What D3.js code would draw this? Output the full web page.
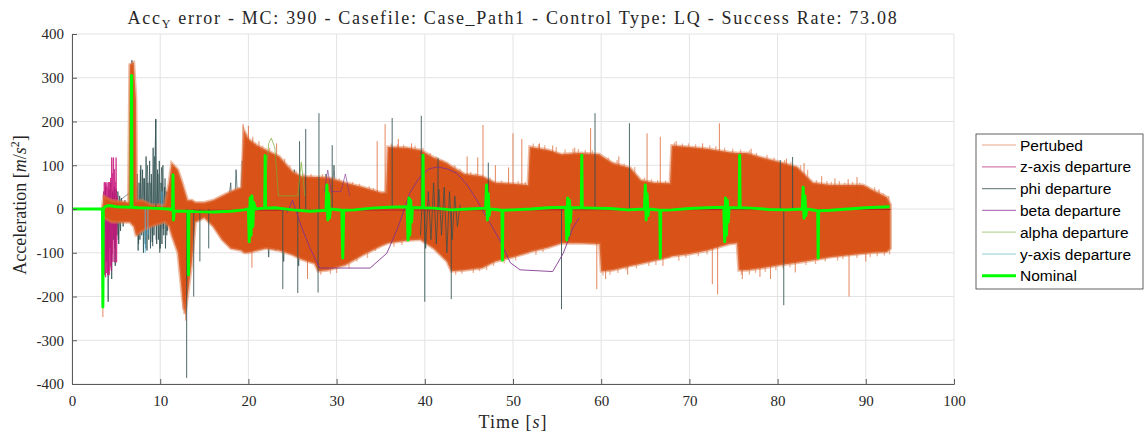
<!DOCTYPE html>
<html>
<head>
<meta charset="utf-8">
<title>Acc Y error</title>
<style>
  body { margin: 0; background: #fff; }
  svg { display: block; }
</style>
</head>
<body>
<script src="https://cdnjs.cloudflare.com/ajax/libs/d3/7.9.0/d3.min.js"></script>
<script>

// ---- data ----

// envelope of the dense "Pertubed" (orange) runs
const bandT  = [3.4, 3.6, 4.5, 6.4, 6.55, 7.0, 7.25, 7.35, 8.0, 9.0, 10.5, 11.0, 11.3, 12.0, 12.5, 12.8, 13.1, 13.6, 14.0, 15.0, 16.0, 17.0, 18.0, 19.2, 19.5, 20.0, 21.0, 22.0, 23.5, 25.0, 26.0, 27.5, 27.9, 29.0, 31.0, 33.0, 35.0, 35.6, 35.8, 38.0, 39.5, 41.0, 42.5, 43.0, 44.5, 46.5, 48.0, 50.0, 51.7, 51.9, 54.0, 55.5, 57.5, 59.8, 60.0, 61.3, 63.3, 64.5, 66.0, 67.8, 68.0, 70.0, 72.0, 74.5, 75.4, 75.6, 76.5, 78.3, 80.3, 82.2, 84.0, 86.0, 89.7, 90.8, 92.4, 92.8];
const bandHi = [0, 30, 20, 15, 330, 335, 250, 20, 20, 10, 10, 60, 105, 90, 60, 40, 20, 20, 15, 15, 20, 30, 40, 50, 180, 160, 145, 135, 120, 85, 75, 73, 73, 72, 60, 50, 38, 38, 142, 140, 135, 118, 105, 98, 80, 75, 60, 58, 55, 142, 135, 125, 128, 125, 122, 105, 94, 66, 60, 59, 145, 142, 138, 130, 128, 128, 128, 117, 107, 96, 60, 55, 55, 43, 27, 10];
const bandLo = [0, -20, -30, -30, -30, -40, -60, -60, -50, -40, -30, -40, -60, -100, -200, -240, -200, -120, -30, -20, -40, -70, -90, -95, -100, -100, -95, -90, -95, -105, -115, -125, -142, -140, -128, -105, -85, -80, -78, -72, -70, -90, -120, -142, -140, -135, -120, -110, -100, -98, -88, -78, -78, -80, -142, -140, -130, -125, -118, -110, -108, -103, -95, -80, -78, -140, -140, -135, -128, -123, -117, -110, -102, -100, -98, -90];

// single orange runs sticking out of the band [time, value]
const pertSpikes = [[3.5, -247], [12.9, -255], [12.6, -230], [19.4, 194], [20.0, 190], [20.4, -134], [20.5, 165], [21.2, 155], [23.2, 150], [26.7, -160], [34.6, 155], [35.5, 194], [37.0, 160], [38.5, 150], [44.8, 120], [46.0, 118], [46.6, 192], [48.0, 100], [49.5, 95], [50.0, 173], [51.0, 160], [53.0, 150], [54.5, 145], [57.0, 140], [58.8, 185], [59.5, -183], [60.5, -160], [62.0, 120], [63.0, -150], [65.2, 173], [66.7, 165], [67.0, -130], [68.5, 155], [71.5, 150], [72.6, -172], [73.2, -195], [73.4, 196], [76.0, -160], [77.0, 138], [78.0, -155], [79.2, -160], [81.0, 115], [82.0, -145], [83.0, 105], [85.0, 75], [86.5, 70], [88.0, 68], [88.1, -200], [89.0, 73], [90.0, -120], [91.5, 45]];

// ragged fringe of lighter orange runs along the band edges
const pertFringe = [[20.8, 150], [21.6, 145], [22.4, 140], [24.1, 115], [24.7, 100], [25.4, 88], [26.3, 82], [27.1, 80], [28.4, 80], [29.6, 75], [30.3, 70], [31.8, 62], [32.6, 58], [33.7, 52], [34.2, 48], [36.2, 150], [36.9, 148], [37.6, 147], [38.9, 145], [39.8, 140], [40.6, 128], [41.3, 120], [42.0, 112], [43.4, 100], [44.0, 92], [45.2, 85], [45.8, 82], [47.4, 72], [48.7, 65], [50.6, 64], [51.4, 62], [52.3, 150], [52.9, 148], [53.6, 146], [54.9, 142], [55.9, 136], [56.8, 138], [57.4, 137], [58.2, 135], [59.0, 134], [60.8, 118], [61.8, 112], [62.6, 104], [63.8, 96], [64.9, 72], [65.7, 68], [66.4, 66], [67.3, 65], [68.3, 152], [69.2, 150], [69.9, 150], [70.7, 148], [72.3, 146], [73.0, 144], [74.0, 140], [74.9, 138], [75.8, 136], [76.8, 134], [77.6, 128], [78.8, 124], [79.6, 118], [80.8, 112], [81.5, 108], [82.6, 100], [83.4, 90], [84.4, 66], [85.6, 64], [86.1, 62], [87.0, 64], [87.6, 60], [88.5, 62], [89.3, 60], [90.2, 52], [91.0, 50], [92.0, 36], [92.6, 30],
  [28.2, -150], [29.3, -148], [30.0, -146], [31.4, -136], [32.3, -120], [33.5, -112], [34.4, -96], [36.5, -86], [37.4, -82], [43.5, -150], [44.2, -148], [45.5, -146], [46.2, -142], [47.0, -140], [47.8, -130], [49.0, -124], [50.3, -118], [52.6, -105], [53.4, -98], [60.2, -152], [61.0, -150], [61.9, -146], [62.8, -140], [64.0, -136], [65.4, -130], [66.2, -128], [68.8, -118], [69.6, -112], [71.0, -108], [72.0, -104], [75.9, -150], [76.8, -150], [77.5, -146], [78.6, -144], [79.8, -140], [80.6, -136], [81.4, -133], [83.2, -128], [84.3, -126], [85.4, -120], [86.8, -118], [87.4, -115], [89.0, -112], [90.5, -110], [91.3, -108], [92.1, -106], [92.7, -104]];

// z-axis departure runs (pink)
const zAxisT = [3.6, 3.63, 3.66, 3.69, 3.72, 3.75, 3.78, 3.81, 3.84, 3.87, 3.9, 3.93, 3.96, 3.99, 4.02, 4.05, 4.08, 4.11, 4.14, 4.17, 4.2, 4.23, 4.26, 4.29, 4.32, 4.35, 4.38, 4.41, 4.44, 4.47, 4.5, 4.55, 4.6, 4.65, 4.7, 4.75, 4.8, 4.85, 4.9, 4.95, 5.0, 5.05, 5.1, 5.2];
const zAxisV = [40, -120, 60, -150, 50, -140, 60, -155, 40, -130, 55, -145, 60, -110, 50, -150, 40, -140, 60, -125, 50, -150, 60, -110, 40, -130, 70, -120, 50, -140, 117, -100, 80, -120, 117, -60, 90, -121, 60, -80, 117, -121, 30, 0];

// phi departure runs (dark grey)
const phiEarlyT = [3.6, 3.7, 3.8, 3.9, 4.0, 4.1, 4.2, 4.3, 4.4, 4.5, 4.6, 4.7, 4.8, 4.9, 5.0, 5.1, 5.2, 5.3, 5.4, 5.5, 5.6, 5.8, 6.0, 6.2, 6.4, 6.6, 6.8, 7.0, 7.3, 7.4, 7.5, 7.6, 7.7, 7.8, 7.9, 8.0, 8.1, 8.2, 8.3, 8.4, 8.5, 8.6, 8.7, 8.8, 8.9, 9.0, 9.1, 9.2, 9.3, 9.4, 9.5, 9.6, 9.7, 9.8, 9.9, 10.0, 10.1, 10.2, 10.3, 10.4, 10.5, 10.6, 10.7, 10.8, 10.9, 11.0];
const phiEarlyV = [40, -150, 50, -120, 30, -212, 45, -90, 60, -160, 40, -70, 50, -130, 45, -60, 40, -80, 30, -50, 25, -40, 20, -30, 15, -20, 340, -30, -40, 80, -95, 60, -70, 100, -60, 90, -100, 70, -80, 120, -95, 60, -70, 110, -90, 80, -75, 140, -60, 100, 205, -80, 90, -70, 110, -90, 60, -80, 100, -60, 50, -90, 40, -50, 30, -20];
const phiEarly2T = [3.65, 3.85, 4.05, 4.25, 4.45, 4.65, 4.85, 5.05, 5.25, 5.45, 7.35, 7.55, 7.75, 7.95, 8.15, 8.35, 8.55, 8.75, 8.95, 9.15, 9.35, 9.55, 9.75, 9.95, 10.15, 10.35, 10.55, 10.75, 10.95, 11.2, 11.5, 11.8, 12.1, 12.4];
const phiEarly2V = [-60, 30, -100, 20, -140, 35, -90, 25, -70, 20, 50, -80, 90, -50, 70, -90, 100, -40, 60, -85, 120, -70, 80, -100, 95, -45, 70, -60, 45, -50, 60, -70, 50, -80];
const phiMidT = [17.5, 18, 18.3, 18.6, 19, 19.3, 19.7, 20.2, 20.6, 21, 21.4, 21.8, 22.3, 22.7, 23.1, 23.5, 24, 24.4, 24.8, 25.2, 25.7, 26.1, 26.6, 27, 27.4, 27.9, 28.3, 28.8, 29.2, 29.7, 30.2, 30.7, 31.2];
const phiMidV = [-20, 60, -80, 90, -60, 110, -100, 80, -90, 100, -70, 90, -110, 70, -95, 60, -120, 80, -100, 90, -130, 70, -90, 60, -110, 70, -120, 80, -90, 100, -70, 50, -40];
const phiLateT = [39.5, 39.8, 40.1, 40.4, 40.7, 41, 41.3, 41.6, 41.9, 42.2, 42.5, 42.8, 43.1, 43.4, 43.7, 44];
const phiLateV = [-60, 50, -90, 40, -70, 60, -80, 45, -60, 50, -100, 40, -70, 30, -40, 10];
const phiSpikes = [[9.5, 206], [13.0, -386], [13.8, -200], [14.5, -120], [15.5, -90], [23.9, -183], [25.6, -192], [25.8, 155], [26.5, 183], [27.9, -191], [28.0, 219], [29.5, 146], [36.3, 208], [39.6, 213], [40.0, -212], [41.5, 117], [43.0, -206], [47.2, 106], [55.5, -229], [59.3, 219], [63.2, 196], [80.3, 112], [80.7, -220], [81.7, 119]];

// beta departure (purple)
const betaT = [24.4, 25, 26, 27, 28.1, 33.8, 35.7, 37, 38.3, 39.5, 40.5, 41.4, 42.5, 43.6, 44.8, 45.9, 47.2, 48.5, 49.7, 50.8, 54.5, 55.7, 56.8, 57.5];
const betaV = [-9, 20, -40, -90, -135, -135, -101, -40, 37, 75, 92, 96, 92, 82, 55, 20, -25, -71, -123, -139, -143, -101, -43, -20];
const betaBumpT = [28.6, 29.0, 29.4, 30.5, 31.0, 31.5];
const betaBumpV = [40, 89, 40, 40, 80, 30];

// alpha departure (light green)
const alphaT = [21.8, 22.3, 22.6, 23.0, 23.4, 25.6, 26.0, 26.4];
const alphaV = [20, 150, 162, 140, 30, 30, 107, 30];

// y-axis departure (teal)
const yAxisSpikes = [[8.3, -100], [8.6, -60], [10.2, 40]];

// nominal run (green)
const nomT = [0, 3.45, 3.5, 3.55, 3.8, 4.2, 5, 6.7, 6.75, 6.8, 7.5, 9, 11, 11.4, 11.45, 11.5, 11.6, 12.5, 13.15, 13.2, 13.25, 14, 16, 18, 19.5, 20.0, 20.1, 20.2, 20.3, 20.4, 20.5, 20.6, 20.8, 21.85, 21.9, 21.95, 23, 25, 27, 28.8, 28.9, 29.0, 29.1, 29.2, 29.3, 30.6, 30.7, 30.8, 32, 34, 36, 38.0, 38.1, 38.2, 38.3, 38.4, 38.5, 38.6, 39.75, 39.8, 39.85, 41, 43, 45, 46.9, 47.0, 47.1, 47.2, 47.3, 47.4, 48.75, 48.8, 48.85, 50, 52, 54, 56.0, 56.1, 56.2, 56.3, 56.4, 56.5, 56.6, 57.75, 57.8, 57.85, 59, 61, 63, 64.9, 65.0, 65.1, 65.2, 65.3, 65.4, 66.65, 66.7, 66.75, 68, 70, 72, 73.9, 74.0, 74.1, 74.2, 74.3, 74.4, 74.5, 75.65, 75.7, 75.75, 77, 79, 81, 82.8, 82.9, 83.0, 83.1, 83.2, 83.3, 84.55, 84.6, 84.65, 86, 88, 90, 92.7];
const nomV = [0, 0, -224, 0, 6, 8, 5, 4, 305, 4, 3, 2, 0, -3, 78, -25, -5, -5, -5, -151, -5, -6, -7, -5, -2, 0, -75, 25, -60, 30, -40, 15, 0, 2, 122, 2, 3, -2, -5, -3, 55, -25, 35, -20, 0, -3, -112, -3, -2, 2, 4, 5, -71, 25, -60, 20, -30, 3, 3, 123, 3, 2, -2, 0, 2, 55, -25, 35, -15, 0, -3, -117, -3, -2, 0, 3, 4, -71, 25, -60, 20, -30, 3, 3, 123, 3, 2, 1, -2, 0, 55, -25, 35, -15, 0, -3, -112, -3, -2, 1, 3, 4, -75, 25, -60, 20, -30, 3, 3, 123, 3, 2, -1, -2, 0, 50, -21, 30, -15, 0, -4, -112, -4, -3, 0, 3, 5];

// dark red reference run sitting under the nominal
const redT = [13, 92.8];
const redV = [-3, -1];

const xTicks = [0, 10, 20, 30, 40, 50, 60, 70, 80, 90, 100];
const yTicks = [-400, -300, -200, -100, 0, 100, 200, 300, 400];

const legendNames = ["Pertubed", "z-axis departure", "phi departure", "beta departure", "alpha departure", "y-axis departure", "Nominal"];
const legendColors = ["#e9a587", "#d77bae", "#7a8a8a", "#b27fbb", "#bcd49c", "#8ccfd6", "#00ff00"];

const titleText = "error - MC: 390 - Casefile: Case_Path1 - Control Type: LQ - Success Rate: 73.08";

// ---- layout ----
const width = 1146, height = 437;
const plot = {left: 72, right: 954, top: 34, bottom: 384};

const svg = d3.select("body").append("svg")
    .attr("width", width)
    .attr("height", height);

const x = d3.scaleLinear().domain([0, 100]).range([plot.left, plot.right]);
const y = d3.scaleLinear().domain([-400, 400]).range([plot.bottom, plot.top]);

// grid
svg.append("g").selectAll("line").data(xTicks).enter().append("line")
    .attr("x1", d => x(d)).attr("x2", d => x(d))
    .attr("y1", plot.top).attr("y2", plot.bottom)
    .attr("stroke", "#e3e3e3");
svg.append("g").selectAll("line").data(yTicks).enter().append("line")
    .attr("x1", plot.left).attr("x2", plot.right)
    .attr("y1", d => y(d)).attr("y2", d => y(d))
    .attr("stroke", "#e3e3e3");

svg.append("clipPath").attr("id", "clip").append("rect")
    .attr("x", plot.left).attr("y", plot.top)
    .attr("width", plot.right - plot.left).attr("height", plot.bottom - plot.top);

const g = svg.append("g").attr("clip-path", "url(#clip)");

const zip = (ts, vs) => ts.map((t, i) => [t, vs[i]]);
const line = d3.line().x(d => x(d[0])).y(d => y(d[1]));

function spikes(data, color, opacity, w) {
    g.append("g").selectAll("line").data(data).enter().append("line")
        .attr("x1", d => x(d[0])).attr("x2", d => x(d[0]))
        .attr("y1", y(0)).attr("y2", d => y(d[1]))
        .attr("stroke", color).attr("stroke-opacity", opacity)
        .attr("stroke-width", w);
}
function trace(ts, vs, color, opacity, w) {
    g.append("path").datum(zip(ts, vs))
        .attr("d", line)
        .attr("fill", "none")
        .attr("stroke", color).attr("stroke-opacity", opacity)
        .attr("stroke-width", w).attr("stroke-linejoin", "round");
}

// phi runs behind
trace(phiEarlyT, phiEarlyV, "#2f4f4f", 0.75, 1);
trace(phiEarly2T, phiEarly2V, "#2f4f4f", 0.6, 1);
trace(zAxisT, zAxisV, "#c8107a", 0.85, 1.3);
trace(phiMidT, phiMidV, "#2f4f4f", 0.7, 1);

// perturbed band
spikes(pertFringe, "#e0703c", 0.55, 1.3);
const band = d3.area()
    .x(d => x(d.t)).y0(d => y(d.lo)).y1(d => y(d.hi));
g.append("path")
    .datum(bandT.map((t, i) => ({t: t, hi: bandHi[i], lo: bandLo[i]})))
    .attr("d", band)
    .attr("fill", "#d95319")
    .attr("stroke", "#e07a4a").attr("stroke-width", 3).attr("stroke-opacity", 0.5);

spikes(pertSpikes, "#d95319", 0.7, 1);
trace(phiLateT, phiLateV, "#2f4f4f", 0.7, 1);
spikes(phiSpikes, "#2f4f4f", 0.85, 1);
spikes(yAxisSpikes, "#4dbeee", 0.8, 1);
trace(betaT, betaV, "#7e2f8e", 0.85, 1);
trace(betaBumpT, betaBumpV, "#7e2f8e", 0.6, 1);
trace(alphaT, alphaV, "#77ac30", 0.7, 1);
trace(redT, redV, "#a2142f", 0.8, 1);
trace(nomT, nomV, "#00ff00", 1, 3);

// axes (ticks inward, MATLAB style)
const axisColor = "#5a5a5a";
const serif = "'Liberation Serif', 'DejaVu Serif', serif";

const xAxis = svg.append("g")
    .attr("transform", `translate(0,${plot.bottom})`)
    .call(d3.axisBottom(x).tickValues(xTicks).tickSize(-5).tickPadding(11).tickFormat(d => String(d)));
const yAxis = svg.append("g")
    .attr("transform", `translate(${plot.left},0)`)
    .call(d3.axisLeft(y).tickValues(yTicks).tickSize(-5).tickPadding(8).tickFormat(d => String(d)));

[xAxis, yAxis].forEach(a => {
    a.select(".domain").attr("stroke", axisColor);
    a.selectAll(".tick line").attr("stroke", axisColor);
    a.selectAll("text").attr("fill", "#262626")
        .attr("font-family", serif).attr("font-size", "15px");
});

// axis labels
svg.append("text")
    .attr("x", (plot.left + plot.right) / 2).attr("y", 428)
    .attr("text-anchor", "middle")
    .attr("font-family", serif).attr("font-size", "18px").attr("fill", "#262626")
    .attr("letter-spacing", "1px")
    .html("Time [<tspan font-style='italic'>s</tspan>]");

svg.append("g")
    .attr("transform", `translate(26,${y(0) - 4}) rotate(-90)`)
    .append("text")
    .attr("text-anchor", "middle")
    .attr("font-family", serif).attr("font-size", "18px").attr("fill", "#262626")
    .html("Acceleration [<tspan font-style='italic'>m</tspan>/<tspan font-style='italic'>s</tspan><tspan dy='-7' font-size='12px'>2</tspan><tspan dy='7'>]</tspan>");

// title
const title = svg.append("text")
    .attr("x", (plot.left + plot.right) / 2).attr("y", 24)
    .attr("text-anchor", "middle")
    .attr("font-family", serif).attr("font-size", "18px").attr("fill", "#262626")
    .attr("letter-spacing", "1.7px");
title.append("tspan").text("Acc");
title.append("tspan").attr("dy", 4).attr("font-size", "12px").text("Y");
title.append("tspan").attr("dy", -4).text(" " + titleText);

// legend
const lg = svg.append("g").attr("transform", "translate(976,134)");
lg.append("rect")
    .attr("width", 167).attr("height", 155)
    .attr("fill", "#fff").attr("stroke", "#3a3a3a").attr("stroke-width", 0.8);
const items = lg.selectAll("g.item").data(legendNames).enter().append("g")
    .attr("class", "item")
    .attr("transform", (d, i) => `translate(0,${11 + i * 21.8})`);
items.append("line")
    .attr("x1", 6).attr("x2", 40)
    .attr("stroke", (d, i) => legendColors[i])
    .attr("stroke-width", (d, i) => i === 6 ? 3 : 1.2);
items.append("text")
    .attr("x", 44).attr("y", 5.5)
    .attr("font-family", "'Liberation Sans', Arial, sans-serif").attr("font-size", "15.5px")
    .attr("fill", "#000")
    .text(d => d);

</script>
</body>
</html>
